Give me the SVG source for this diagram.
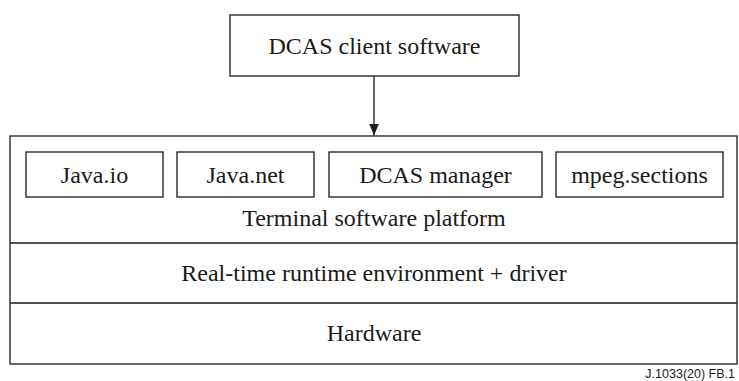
<svg xmlns="http://www.w3.org/2000/svg" width="739" height="381" viewBox="0 0 739 381">
  <style>
    .box { fill: #ffffff; stroke: #1a1a1a; stroke-width: 1.3; }
    .line { stroke: #1a1a1a; stroke-width: 1.3; fill: none; }
    .lbl { font-family: 'Liberation Serif', 'DejaVu Serif', serif; font-size: 24px; fill: #1a1a1a; text-anchor: middle; }
    .tag { font-family: 'Liberation Sans', sans-serif; font-size: 12.5px; fill: #1a1a1a; text-anchor: end; }
  </style>
  <defs>
    <marker id="arrow" viewBox="0 0 12 12" refX="12" refY="6" markerWidth="12" markerHeight="12" markerUnits="userSpaceOnUse" orient="auto">
      <path d="M0,1 L12,6 L0,11 Z" fill="#1a1a1a"/>
    </marker>
  </defs>

  <rect width="739" height="381" fill="#ffffff"/>

  <!-- platform stack -->
  <g id="platform-stack">
    <rect class="box" x="10" y="136" width="727" height="228"/>
    <line class="line" x1="10" y1="243" x2="737" y2="243"/>
    <line class="line" x1="10" y1="303" x2="737" y2="303"/>
  </g>

  <g id="terminal-software-platform">
    <text class="lbl" x="374" y="226">Terminal software platform</text>
  </g>

  <g id="java-io">
    <rect class="box" x="26" y="152" width="137" height="45"/>
    <text class="lbl" x="94.5" y="183">Java.io</text>
  </g>

  <g id="java-net">
    <rect class="box" x="177" y="152" width="137" height="45"/>
    <text class="lbl" x="245.5" y="183">Java.net</text>
  </g>

  <g id="dcas-manager">
    <rect class="box" x="329" y="152" width="213" height="45"/>
    <text class="lbl" x="435.5" y="183">DCAS manager</text>
  </g>

  <g id="mpeg-sections">
    <rect class="box" x="556" y="152" width="167" height="45"/>
    <text class="lbl" x="639.5" y="183">mpeg.sections</text>
  </g>

  <g id="runtime-environment">
    <text class="lbl" x="374" y="281">Real-time runtime environment + driver</text>
  </g>

  <g id="hardware">
    <text class="lbl" x="374" y="341">Hardware</text>
  </g>

  <g id="dcas-client-software">
    <rect class="box" x="230" y="15" width="289" height="61"/>
    <text class="lbl" x="374.5" y="54">DCAS client software</text>
  </g>

  <!-- connectors -->
  <g id="connectors">
    <line class="line" x1="374" y1="76" x2="374" y2="135.5" marker-end="url(#arrow)"/>
  </g>

  <text class="tag" x="735" y="378">J.1033(20)  FB.1</text>
</svg>
